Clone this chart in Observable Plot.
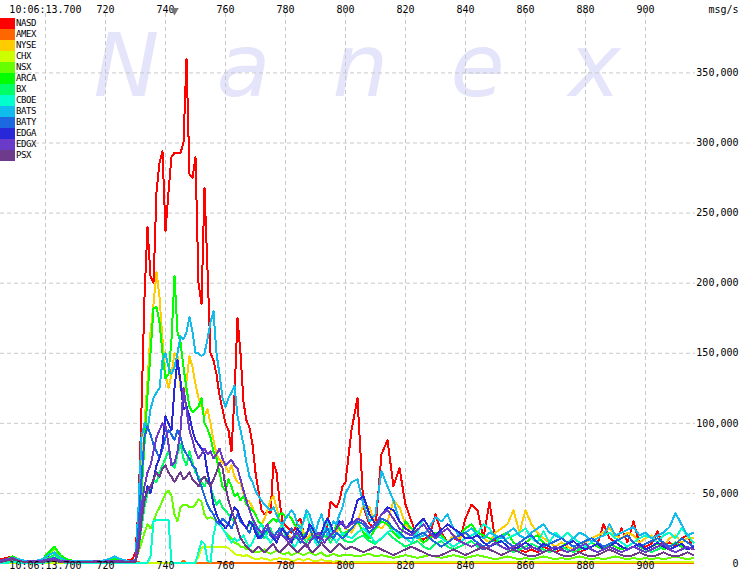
<!DOCTYPE html>
<html><head><meta charset="utf-8">
<script src="https://cdn.jsdelivr.net/npm/d3@7"></script>
<script src="https://cdn.jsdelivr.net/npm/@observablehq/plot@0.6"></script>
<style>
body{margin:0;background:#fff;}
#wrap{position:relative;width:740px;height:575px;overflow:hidden;background:#fff;}
#wm{position:absolute;left:68px;top:22px;font:italic 88px/88px "DejaVu Sans";color:#e4e4fa;white-space:nowrap;}
#wm span{display:inline-block;width:117px;text-align:center;}
#chart{position:absolute;left:0;top:0;}
#legend{position:absolute;left:0;top:18px;font:9px "DejaVu Sans Mono";color:#000;}
.row{display:flex;height:11px;align-items:center;}
.sw{width:15px;height:11px;}
.lb{margin-left:1px;line-height:11px;letter-spacing:-0.4px;}
</style></head><body>
<div id="wrap"><div id="wm"></div><div id="chart"></div><div id="legend"></div></div>
<script>
// ---- data (values in thousands of msg/s) ----
const names  = ["NASD","AMEX","NYSE","CHX","NSX","ARCA","BX","CBOE","BATS","BATY","EDGA","EDGX","PSX"];
const colors = ["#ff0000","#ff6600","#ffcc00","#ccff00","#66ff00","#00ff00","#00ff66","#00ffcc","#10bbee","#1c68e0","#2828d8","#6a3ac8","#6e3a8c"];
const xTicks = [700,720,740,760,780,800,820,840,860,880,900];
const yTicks = [0,50000,100000,150000,200000,250000,300000,350000];
const gridY  = [50000,100000,150000,200000,250000,300000,350000];
const markerT = [743];
const watermark = ["N","a","n","e","x"];
// sampling grid (ms after 10:06:13.000)
const times = [...d3.range(685,730,2), ...d3.range(730,801,1), ...d3.range(802,917,2)];

const NASD = [3,4,5,3,2,2,2,3,5,4,3,2,2,2,2,2,2,2,3,3,2,2,3,
8,40,110,190,240,205,200,265,286,294,
237,265,290,293,293,293,300,360,278,275,
290,200,185,268,210,150,145,135,120,110,
100,95,80,120,175,150,115,102,97,85,
65,52,38,35,37,36,72,65,45,30,
27,25,22,24,30,32,22,18,17,20,
18,20,17,22,28,44,42,40,45,55,
58,
95,118,40,28,25,78,88,55,68,42,
30,18,17,20,35,22,15,18,16,32,
42,38,18,44,15,12,10,12,10,8,
10,8,12,10,8,10,12,10,8,10,
12,14,28,18,15,25,15,30,14,12,
14,23,12,15,12,18,20,10];
const AMEX = [1,1,1.5,1,1,1,1,1,1,1,1,1,1,1,1,1,1.5,1,1.5,1,1,1,1,
1.5,1,0.5,0.5,0.5,0.5,0.5,0.5,0.5,0.5,
0.5,0.5,0.5,0.5,0.5,0.5,2,0.5,0.5,0.5,
0.5,0.5,0.5,0.5,0.5,0.5,0.5,0.5,0.5,0.5,
0.5,0.5,0.5,0.5,0.5,0.5,0.5,0.5,0.5,0.5,
0.5,0.5,0.5,0.5,0.5,0.5,0.5,0.5,0.5,0.5,
0.5,0.5,0.5,0.5,0.5,0.5,0.5,0.5,0.5,0.5,
0.5,0.5,0.5,0.5,0.5,0.5,0.5,0.5,0.5,0.5,
0.5,
0.5,0.5,0.5,0.5,0.5,0.5,0.5,0.5,0.5,0.5,
0.5,0.5,0.5,0.5,0.5,0.5,0.5,0.5,0.5,0.5,
0.5,0.5,0.5,0.5,0.5,0.5,0.5,0.5,0.5,0.5,
0.5,0.5,0.5,0.5,0.5,0.5,0.5,0.5,0.5,0.5,
0.5,0.5,0.5,0.5,0.5,0.5,0.5,0.5,0.5,0.5,
0.5,0.5,0.5,0.5,0.5,0.5,0.5,0.5];
const NYSE = [2,3,4,2,1,2,2,2,4,3,2,2,1,1,1,2,1,1,2,2,1,2,2,
3,20,60,100,130,165,185,208,190,160,
135,125,135,150,148,125,118,130,148,140,
128,118,112,105,110,100,88,78,74,72,
70,65,70,62,58,57,50,46,44,40,
35,30,28,32,38,45,48,40,32,25,
22,20,18,20,25,28,22,18,20,24,
18,15,18,22,25,20,18,22,28,30,
25,
22,30,42,40,28,25,30,45,40,28,
22,18,15,18,20,18,15,20,18,22,
25,20,18,15,22,25,28,38,22,38,
28,22,18,15,12,15,12,10,12,15,
18,20,22,25,20,18,22,20,15,18,
20,15,12,18,20,15,18,18];
const CHX = [0.5,0.5,0.5,0.5,0.5,0.5,0.5,0.5,0.5,0.5,0.5,0.5,0.5,0.5,0.5,0.5,0.5,0.5,0.5,0.5,0.5,0.5,0.5,
0.5,0.5,0.5,0.5,0.5,0.5,0.5,0.5,0.5,0.5,
0.5,0.5,0.5,0.5,0.5,0.5,0.5,0.5,0.5,0.5,
1,5,11,12,12,12,12,12,12,12,
12,11,9,7,6,6,5,6,5,4,
3,3,4,3,3,2,3,3,4,3,
3,3,2,2,3,3,2,3,3,2,
2,2,3,2,2,2,1,2,2,1,
1,
0.8,0.8,0.8,0.8,0.8,0.8,0.8,0.8,0.8,0.8,
0.8,0.8,0.8,0.8,0.8,0.8,0.8,0.8,0.8,0.8,
0.8,0.8,0.8,0.8,0.8,0.8,0.8,0.8,0.8,0.8,
0.8,0.8,0.8,0.8,0.8,0.8,0.8,0.8,0.8,0.8,
0.8,0.8,0.8,0.8,0.8,0.8,0.8,0.8,0.8,0.8,
0.8,0.8,0.8,0.8,0.8,0.8,0.8,0.8];
const NSX = [1,2,3,2,1,1,1,2,6,11,5,2,1,1,1,1,1,1,1,2,1,1,1,
2,8,15,22,28,25,30,36,40,45,
50,52,48,35,30,40,42,42,40,40,
42,46,44,35,32,33,32,30,28,25,
22,20,18,15,14,12,12,10,10,9,
8,8,9,10,8,7,8,9,8,7,
7,8,6,7,8,7,6,7,8,7,
6,7,8,6,5,6,7,6,5,6,
6,
6,5,6,7,5,6,5,4,5,6,
5,4,5,6,5,4,5,6,5,4,
5,6,5,4,3,4,5,4,3,4,
3,4,5,4,3,4,3,4,5,4,
3,4,3,4,5,4,3,4,3,4,
3,4,3,4,5,4,3,4];
const ARCA = [2,3,5,3,2,2,2,3,8,12,6,3,2,2,2,2,2,2,2,3,2,2,2,
3,15,50,85,120,150,182,183,172,150,
132,135,160,205,165,158,140,125,112,108,
110,112,118,100,96,90,80,75,65,55,
52,60,55,48,50,45,48,42,40,38,
35,30,28,25,28,30,32,30,35,36,
33,35,32,28,25,22,20,22,25,20,
18,20,22,25,20,18,22,28,25,20,
22,
25,30,22,18,25,30,28,22,18,30,
25,20,15,18,22,20,15,18,20,25,
28,22,20,18,15,20,22,15,12,15,
18,20,15,12,10,12,15,12,10,12,
15,12,10,14,12,10,12,15,12,10,
12,14,10,12,15,12,10,12];
const BX = [1,2,2,1,1,1,1,2,4,6,3,2,1,1,1,1,1,1,1,2,1,1,1,
2,10,25,40,50,55,60,58,65,70,
75,80,72,68,78,85,75,70,80,72,
65,62,58,55,60,55,48,42,45,40,
38,35,32,30,35,32,28,25,28,30,
25,22,20,18,22,25,20,18,22,25,
20,18,15,18,20,22,18,15,18,20,
16,15,18,20,18,15,18,22,20,18,
16,
15,18,20,16,14,18,22,18,15,12,
14,16,12,10,14,16,12,10,12,14,
16,12,10,12,14,12,10,8,10,12,
14,12,10,8,10,12,10,8,10,12,
10,8,10,12,10,8,10,12,14,10,
8,10,12,10,8,10,12,10];
const CBOE = [0.5,0.5,1,0.5,0.5,0.5,0.5,0.5,1,2,1,0.5,0.5,0.5,0.5,0.5,0.5,0.5,0.5,0.5,0.5,0.5,0.5,
0.5,0.5,0.5,0.5,0.5,5,30,31,31,31,
31,31,0.5,0.5,0.5,0.5,0.5,0.5,0.5,0.5,
0.5,8,16,14,2,1,20,30,28,25,
22,18,15,18,16,18,20,15,12,15,
20,25,28,22,18,15,18,22,25,28,
22,18,15,12,15,22,30,35,28,20,
15,12,18,25,30,25,18,15,18,22,
20,
18,22,25,20,15,18,22,25,20,18,
15,22,32,25,20,18,15,12,15,18,
20,22,28,25,18,15,18,20,22,25,
18,15,23,15,22,18,22,18,15,12,
15,18,20,22,18,15,12,15,18,20,
18,15,20,22,18,25,20,15];
const BATS = [2,3,4,3,2,2,2,3,6,8,4,2,2,2,2,2,2,2,3,5,3,2,2,
3,40,90,100,95,110,118,122,125,145,
150,140,135,140,150,162,160,165,176,165,
150,150,148,150,160,172,180,150,135,118,
112,118,122,127,105,95,85,72,62,58,
52,48,45,42,40,38,40,35,30,28,
32,35,38,35,28,25,30,38,35,28,
22,30,35,28,20,25,30,28,35,40,
50,
58,60,42,30,35,66,55,45,30,25,
22,18,20,26,33,30,35,25,20,22,
25,20,18,22,20,18,22,25,20,18,
22,25,28,22,20,18,15,18,22,20,
16,18,20,28,20,22,24,26,20,22,
18,20,22,26,36,28,20,22];
const BATY = [1,2,3,2,1,1,1,2,3,4,2,1,1,1,1,1,1,1,2,2,1,1,1,
3,25,60,90,98,92,85,80,75,82,
90,95,92,88,95,90,82,78,75,70,
68,60,55,48,42,38,35,30,28,32,
30,28,25,30,35,30,28,25,22,28,
25,20,18,22,25,20,18,22,25,20,
18,22,25,20,18,15,18,22,25,20,
18,15,18,22,25,20,18,22,20,18,
20,
25,30,28,22,26,32,30,25,22,18,
18,20,22,18,15,12,15,18,20,22,
18,15,12,15,18,20,15,12,15,18,
20,15,12,14,16,18,15,12,14,16,
18,15,12,14,16,18,20,15,12,14,
16,18,15,12,14,18,15,12];
const EDGA = [1,2,3,2,1,1,1,2,3,3,2,1,1,1,1,1,1,1,1,2,1,1,1,
2,10,30,45,55,50,60,70,75,85,
105,100,95,125,145,130,110,112,105,95,
88,85,82,78,65,55,42,35,30,28,
25,28,35,40,38,32,28,25,30,28,
22,18,20,25,28,22,18,15,20,25,
22,18,15,20,25,22,18,20,28,25,
20,18,22,28,32,28,22,25,30,28,
25,
30,45,48,35,28,35,40,38,30,25,
22,28,32,25,20,24,28,25,22,18,
18,20,15,12,14,16,12,10,12,15,
12,10,14,12,10,12,14,16,12,10,
12,14,10,12,15,12,10,12,14,10,
12,15,12,10,12,14,10,12];
const EDGX = [2,3,4,2,1,2,2,2,3,3,2,2,1,1,1,1,2,1,2,2,2,1,2,
2,15,40,55,65,70,80,90,95,100,
98,85,70,72,80,95,125,110,95,88,
80,75,78,82,78,80,75,78,82,75,
70,72,74,70,68,60,52,45,38,32,
28,24,22,25,28,22,20,18,22,20,
18,15,18,20,22,18,15,12,15,18,
20,22,18,15,18,20,22,25,28,30,
25,
28,32,30,25,28,35,38,32,25,22,
20,24,28,22,18,22,25,20,16,14,
12,14,10,12,15,12,10,12,14,10,
12,10,8,10,12,10,8,10,12,14,
10,8,10,12,10,8,10,12,10,8,
10,12,14,10,8,10,12,10];
const PSX = [1,2,3,2,1,1,1,1,2,2,1,1,1,1,1,1,1,1,1,1,1,1,1,
1,10,30,45,52,55,60,65,62,68,
70,65,62,58,62,65,60,62,65,60,
58,55,60,62,58,55,60,65,72,68,
55,45,38,32,25,18,15,12,10,8,
10,12,10,8,10,12,14,10,8,10,
12,14,12,10,8,10,12,14,10,8,
10,12,15,12,10,8,10,12,14,12,
10,
12,10,8,10,12,10,8,6,8,10,
12,10,8,6,5,6,8,10,8,6,
8,10,12,10,8,6,8,10,8,6,
5,6,8,10,8,6,5,6,8,6,
5,6,8,10,8,6,5,6,8,6,
5,6,8,6,5,6,8,6];

const series = [NASD,AMEX,NYSE,CHX,NSX,ARCA,BX,CBOE,BATS,BATY,EDGA,EDGX,PSX];
const data = [];
names.forEach((name, k) => {
  const vals = series[k];
  if (vals.length !== times.length) throw new Error(name + " has " + vals.length + " values, expected " + times.length);
  vals.forEach((v, i) => data.push({t: times[i], v: v * 1000, s: name}));
});

const fmtX = d => d === 700 ? "10:06:13.700" : String(d);
const fmtY = d3.format(",");

const chart = Plot.plot({
  width: 740, height: 575,
  marginLeft: 0, marginRight: 45, marginTop: 13, marginBottom: 12,
  style: {background: "transparent", fontFamily: "DejaVu Sans Mono", fontSize: "10px", color: "#000"},
  x: {domain: [685, 916.67], axis: null},
  y: {domain: [0, 392400], axis: null},
  color: {domain: names, range: colors},
  marks: [
    Plot.ruleX(xTicks, {stroke: "#c8c8c8", strokeDasharray: "4,3"}),
    Plot.ruleY(gridY, {stroke: "#c8c8c8", strokeDasharray: "4,3"}),
    Plot.line(data, {x: "t", y: "v", z: "s", stroke: "s", strokeWidth: 2, shapeRendering: "crispEdges"}),
    Plot.text(xTicks, {x: d => d, text: fmtX, frameAnchor: "top", dy: -8, fill: "#000", fontSize: 10}),
    Plot.text(xTicks, {x: d => d, text: fmtX, frameAnchor: "bottom", dy: 5, fill: "#000", fontSize: 10}),
    Plot.text(yTicks, {y: d => d, text: fmtY, frameAnchor: "right", textAnchor: "end", dx: 43, fill: "#000", fontSize: 10}),
    Plot.text(["msg/s"], {frameAnchor: "top-right", textAnchor: "end", dx: 43, dy: -8, fill: "#000", fontSize: 10}),
    Plot.ruleX(markerT, {x: d => d, y1: 392400, y2: 392400, dy: -1, insetTop: 0, stroke: "#777", strokeWidth: 1}),
    Plot.dot(markerT, {x: d => d, frameAnchor: "top", dy: -3, symbol: "triangle", rotate: 180, r: 3.2, fill: "#777", stroke: "none"})
  ]
});
document.getElementById("chart").appendChild(chart);

// watermark
const wm = document.getElementById("wm");
watermark.forEach(ch => { const s = document.createElement("span"); s.textContent = ch; wm.appendChild(s); });

// legend
const leg = document.getElementById("legend");
names.forEach((n, i) => {
  const row = document.createElement("div"); row.className = "row";
  const sw = document.createElement("div"); sw.className = "sw"; sw.style.background = colors[i];
  const lb = document.createElement("div"); lb.className = "lb"; lb.textContent = n;
  row.appendChild(sw); row.appendChild(lb); leg.appendChild(row);
});
</script>
</body></html>
